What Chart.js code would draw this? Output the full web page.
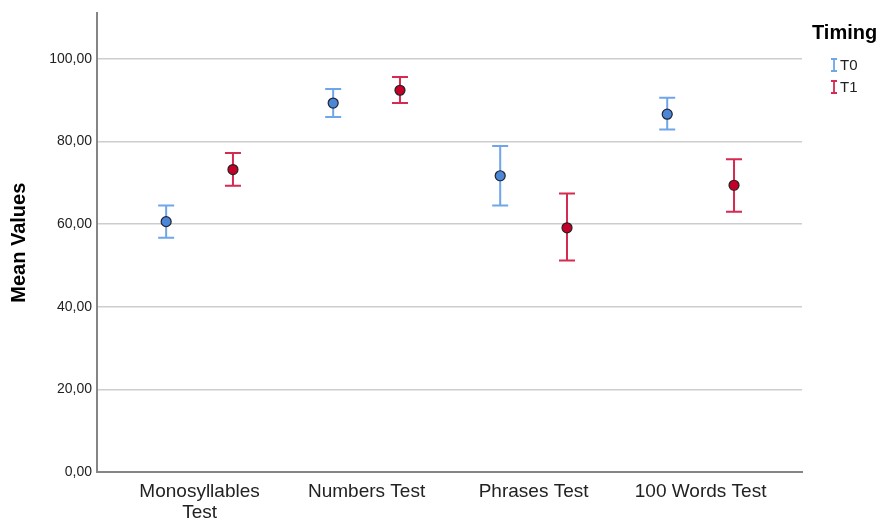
<!DOCTYPE html>
<html>
<head>
<meta charset="utf-8">
<script src="https://cdn.jsdelivr.net/npm/chart.js@4/dist/chart.umd.min.js"></script>
<style>
  html, body { margin: 0; padding: 0; background: #fff; }
  #wrap { width: 880px; height: 520px; }
</style>
</head>
<body>
<div id="wrap"><canvas id="errChart" width="880" height="520"></canvas></div>
<script>
// data
const categories = ['Monosyllables Test', 'Numbers Test', 'Phrases Test', '100 Words Test'];
const t0Mean = [60.6, 89.3, 71.7, 86.6];
const t0Low  = [56.7, 85.9, 64.5, 82.9];
const t0High = [64.5, 92.7, 78.9, 90.6];
const t1Mean = [73.2, 92.4, 59.1, 69.4];
const t1Low  = [69.3, 89.3, 51.2, 63.0];
const t1High = [77.2, 95.6, 67.4, 75.7];
const yTicks = [0, 20, 40, 60, 80, 100];
const groups = ['T0', 'T1'];

const FONT = "'Liberation Sans', Arial, sans-serif";
const T0_BAR = '#6fa6ea', T0_FILL = '#4a87d6';
const T1_BAR = '#d52a52', T1_FILL = '#c4002a';
const DODGE = 0.2;

function makeSeries(means, lows, highs, off) {
    return means.map((m, i) => ({ x: i + off, y: m, lo: lows[i], hi: highs[i] }));
}

// error bars drawn under the points, through the chart scales
const errorBars = {
    id: 'errorBars',
    beforeDatasetsDraw(chart) {
        const ctx = chart.ctx;
        const xs = chart.scales.x, ys = chart.scales.y;
        chart.data.datasets.forEach(ds => {
            ctx.save();
            ctx.strokeStyle = ds.barColor;
            ctx.lineWidth = 2;
            ds.data.forEach(p => {
                const px = xs.getPixelForValue(p.x);
                const top = ys.getPixelForValue(p.hi);
                const bot = ys.getPixelForValue(p.lo);
                ctx.beginPath();
                ctx.moveTo(px, top); ctx.lineTo(px, bot);
                ctx.moveTo(px - 8, top); ctx.lineTo(px + 8, top);
                ctx.moveTo(px - 8, bot); ctx.lineTo(px + 8, bot);
                ctx.stroke();
            });
            ctx.restore();
        });
    }
};

// legend on the right, SPSS style
const sideLegend = {
    id: 'sideLegend',
    afterDraw(chart) {
        const ctx = chart.ctx;
        ctx.save();
        ctx.fillStyle = '#000';
        ctx.font = 'bold 20px ' + FONT;
        ctx.textBaseline = 'alphabetic';
        ctx.fillText('Timing', 812, 39);
        chart.data.datasets.forEach((ds, i) => {
            const cy = 65 + i * 22;
            ctx.strokeStyle = ds.barColor;
            ctx.lineWidth = 1.8;
            ctx.beginPath();
            ctx.moveTo(834, cy - 6); ctx.lineTo(834, cy + 6);
            ctx.moveTo(831, cy - 6); ctx.lineTo(837, cy - 6);
            ctx.moveTo(831, cy + 6); ctx.lineTo(837, cy + 6);
            ctx.stroke();
            ctx.fillStyle = '#222';
            ctx.font = '15px ' + FONT;
            ctx.textBaseline = 'middle';
            ctx.fillText(ds.label, 840, cy + 1);
        });
        ctx.restore();
    }
};

document.addEventListener('DOMContentLoaded', function () {
    const ctx = document.getElementById('errChart').getContext('2d');
    new Chart(ctx, {
        type: 'scatter',
        data: {
            datasets: [{
                label: groups[0],
                data: makeSeries(t0Mean, t0Low, t0High, -DODGE),
                barColor: T0_BAR,
                backgroundColor: T0_FILL,
                borderColor: '#223',
                borderWidth: 1.2,
                pointRadius: 5
            }, {
                label: groups[1],
                data: makeSeries(t1Mean, t1Low, t1High, DODGE),
                barColor: T1_BAR,
                backgroundColor: T1_FILL,
                borderColor: '#222',
                borderWidth: 1.2,
                pointRadius: 5
            }]
        },
        options: {
            responsive: false,
            animation: false,
            events: [],
            layout: { padding: { top: 13, right: 78, left: 0, bottom: 0 } },
            plugins: { legend: { display: false }, tooltip: { enabled: false } },
            scales: {
                x: {
                    type: 'linear',
                    min: -0.614,
                    max: 3.607,
                    afterBuildTicks(scale) {
                        scale.ticks = categories.map((c, i) => ({ value: i }));
                    },
                    afterFit(scale) { scale.height = 48; },
                    grid: { display: false, drawTicks: false },
                    border: { display: true, color: '#858585', width: 2 },
                    ticks: {
                        padding: 9,
                        color: '#222',
                        font: { family: FONT, size: 19, lineHeight: 1.1 },
                        callback(v) {
                            const name = categories[Math.round(v)];
                            return name === 'Monosyllables Test' ? ['Monosyllables', 'Test'] : name;
                        }
                    }
                },
                y: {
                    min: 0,
                    max: 111,
                    afterBuildTicks(scale) {
                        scale.ticks = yTicks.map(v => ({ value: v }));
                    },
                    afterFit(scale) { scale.width = 97; },
                    grid: { color: '#cdcdcd', lineWidth: 1.5, drawTicks: false },
                    border: { display: true, color: '#858585', width: 2 },
                    ticks: {
                        padding: 5,
                        color: '#222',
                        font: { family: FONT, size: 14 },
                        callback(v) { return v.toFixed(2).replace('.', ','); }
                    },
                    title: {
                        display: true,
                        text: 'Mean Values',
                        color: '#000',
                        padding: { top: 7, bottom: 0 },
                        font: { family: FONT, size: 20, weight: 'bold' }
                    }
                }
            }
        },
        plugins: [errorBars, sideLegend]
    });
});
</script>
</body>
</html>
